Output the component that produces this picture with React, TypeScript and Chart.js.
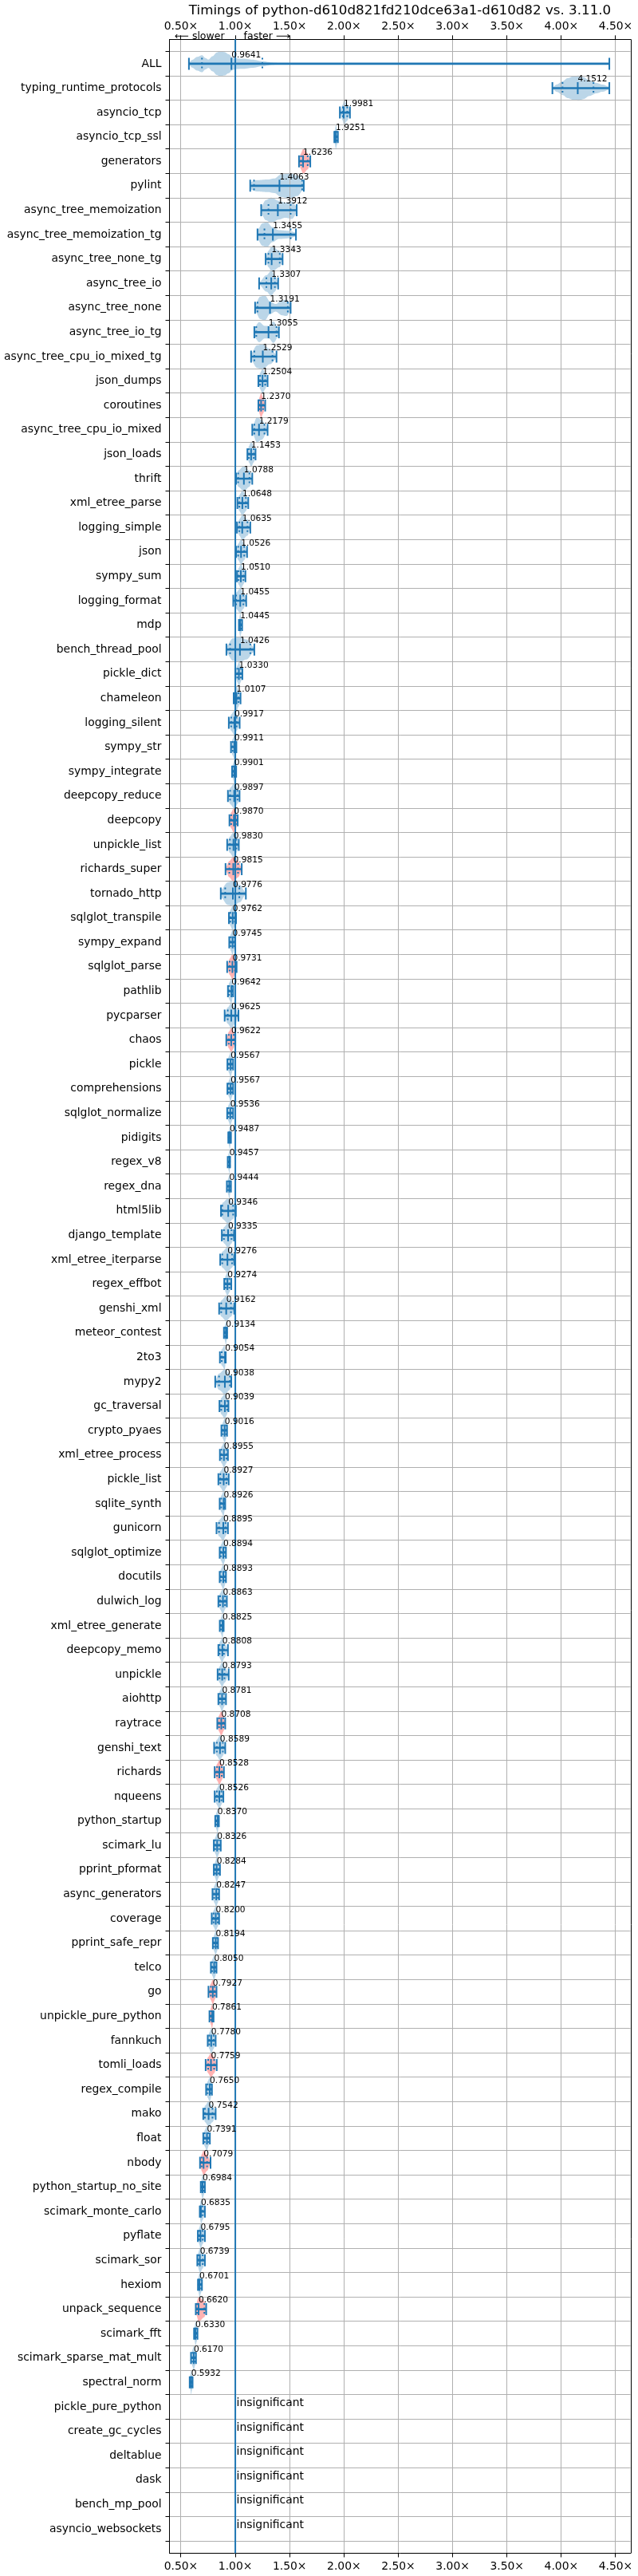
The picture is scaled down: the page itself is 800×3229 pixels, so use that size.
import React, { useEffect, useRef } from 'react';
import { Chart, registerables } from 'chart.js';

Chart.register(...registerables);

const TITLE = 'Timings of python-d610d821fd210dce63a1-d610d82 vs. 3.11.0';

// benchmarks with a significant result, top to bottom
const benchmarks = [
  'ALL', 'typing_runtime_protocols', 'asyncio_tcp', 'asyncio_tcp_ssl', 'generators', 'pylint',
  'async_tree_memoization', 'async_tree_memoization_tg', 'async_tree_none_tg', 'async_tree_io',
  'async_tree_none', 'async_tree_io_tg', 'async_tree_cpu_io_mixed_tg', 'json_dumps', 'coroutines',
  'async_tree_cpu_io_mixed', 'json_loads', 'thrift', 'xml_etree_parse', 'logging_simple', 'json',
  'sympy_sum', 'logging_format', 'mdp', 'bench_thread_pool', 'pickle_dict', 'chameleon',
  'logging_silent', 'sympy_str', 'sympy_integrate', 'deepcopy_reduce', 'deepcopy', 'unpickle_list',
  'richards_super', 'tornado_http', 'sqlglot_transpile', 'sympy_expand', 'sqlglot_parse', 'pathlib',
  'pycparser', 'chaos', 'pickle', 'comprehensions', 'sqlglot_normalize', 'pidigits', 'regex_v8',
  'regex_dna', 'html5lib', 'django_template', 'xml_etree_iterparse', 'regex_effbot', 'genshi_xml',
  'meteor_contest', '2to3', 'mypy2', 'gc_traversal', 'crypto_pyaes', 'xml_etree_process',
  'pickle_list', 'sqlite_synth', 'gunicorn', 'sqlglot_optimize', 'docutils', 'dulwich_log',
  'xml_etree_generate', 'deepcopy_memo', 'unpickle', 'aiohttp', 'raytrace', 'genshi_text', 'richards',
  'nqueens', 'python_startup', 'scimark_lu', 'pprint_pformat', 'async_generators', 'coverage',
  'pprint_safe_repr', 'telco', 'go', 'unpickle_pure_python', 'fannkuch', 'tomli_loads',
  'regex_compile', 'mako', 'float', 'nbody', 'python_startup_no_site', 'scimark_monte_carlo',
  'pyflate', 'scimark_sor', 'hexiom', 'unpack_sequence', 'scimark_fft', 'scimark_sparse_mat_mult',
  'spectral_norm',
];

const insignificantBenchmarks = [
  'pickle_pure_python', 'create_gc_cycles', 'deltablue', 'dask', 'bench_mp_pool', 'asyncio_websockets',
];

const allRows = [...benchmarks, ...insignificantBenchmarks];

// labelled value (speed-up factor) per benchmark
const geoMeans = [
  0.9641, 4.1512, 1.9981, 1.9251, 1.6236, 1.4063, 1.3912, 1.3455, 1.3343, 1.3307,
  1.3191, 1.3055, 1.2529, 1.2504, 1.2370, 1.2179, 1.1453, 1.0788, 1.0648, 1.0635,
  1.0526, 1.0510, 1.0455, 1.0445, 1.0426, 1.0330, 1.0107, 0.9917, 0.9911, 0.9901,
  0.9897, 0.9870, 0.9830, 0.9815, 0.9776, 0.9762, 0.9745, 0.9731, 0.9642, 0.9625,
  0.9622, 0.9567, 0.9567, 0.9536, 0.9487, 0.9457, 0.9444, 0.9346, 0.9335, 0.9276,
  0.9274, 0.9162, 0.9134, 0.9054, 0.9038, 0.9039, 0.9016, 0.8955, 0.8927, 0.8926,
  0.8895, 0.8894, 0.8893, 0.8863, 0.8825, 0.8808, 0.8793, 0.8781, 0.8708, 0.8589,
  0.8528, 0.8526, 0.8370, 0.8326, 0.8284, 0.8247, 0.8200, 0.8194, 0.8050, 0.7927,
  0.7861, 0.7780, 0.7759, 0.7650, 0.7542, 0.7391, 0.7079, 0.6984, 0.6835, 0.6795,
  0.6739, 0.6701, 0.6620, 0.6330, 0.6170, 0.5932,
];

const lows = [
  0.573, 3.918, 1.962, 1.911, 1.586, 1.137, 1.238, 1.204, 1.279, 1.219,
  1.182, 1.175, 1.145, 1.212, 1.212, 1.156, 1.111, 1.007, 1.019, 1.015,
  1.007, 1.015, 0.981, 1.033, 0.918, 1.000, 0.985, 0.940, 0.960, 0.970,
  0.932, 0.946, 0.925, 0.910, 0.866, 0.941, 0.944, 0.925, 0.932, 0.902,
  0.917, 0.927, 0.927, 0.925, 0.935, 0.930, 0.922, 0.868, 0.876, 0.861,
  0.898, 0.851, 0.895, 0.858, 0.815, 0.854, 0.872, 0.858, 0.844, 0.856,
  0.827, 0.856, 0.856, 0.844, 0.857, 0.844, 0.837, 0.844, 0.834, 0.805,
  0.810, 0.810, 0.815, 0.802, 0.802, 0.790, 0.783, 0.793, 0.775, 0.753,
  0.762, 0.746, 0.727, 0.731, 0.705, 0.705, 0.675, 0.682, 0.673, 0.655,
  0.650, 0.656, 0.636, 0.620, 0.592, 0.580,
];

const q1s = [
  0.693, 4.011, 1.990, 1.918, 1.605, 1.172, 1.305, 1.268, 1.305, 1.286,
  1.204, 1.193, 1.175, 1.228, 1.222, 1.175, 1.125, 1.026, 1.037, 1.037,
  1.026, 1.030, 1.007, 1.038, 0.952, 1.018, 0.995, 0.962, 0.975, 0.980,
  0.952, 0.962, 0.950, 0.945, 0.907, 0.955, 0.958, 0.948, 0.942, 0.930,
  0.940, 0.940, 0.940, 0.937, 0.942, 0.938, 0.935, 0.880, 0.895, 0.880,
  0.910, 0.870, 0.905, 0.875, 0.850, 0.870, 0.885, 0.872, 0.862, 0.870,
  0.850, 0.868, 0.868, 0.860, 0.868, 0.855, 0.855, 0.858, 0.850, 0.830,
  0.832, 0.830, 0.825, 0.815, 0.815, 0.805, 0.800, 0.805, 0.787, 0.775,
  0.775, 0.760, 0.750, 0.745, 0.720, 0.718, 0.690, 0.690, 0.678, 0.668,
  0.660, 0.663, 0.648, 0.628, 0.605, 0.588,
];

const q3s = [
  1.249, 4.296, 2.030, 1.935, 1.666, 1.615, 1.509, 1.509, 1.409, 1.364,
  1.483, 1.379, 1.342, 1.275, 1.255, 1.268, 1.170, 1.130, 1.097, 1.112,
  1.082, 1.075, 1.074, 1.055, 1.138, 1.050, 1.030, 1.012, 1.000, 0.998,
  1.020, 1.005, 1.010, 1.025, 1.037, 0.995, 0.988, 0.996, 0.972, 1.000,
  0.985, 0.970, 0.970, 0.968, 0.954, 0.949, 0.952, 0.980, 0.965, 0.970,
  0.945, 0.960, 0.920, 0.908, 0.950, 0.925, 0.915, 0.918, 0.918, 0.900,
  0.910, 0.905, 0.905, 0.905, 0.888, 0.895, 0.900, 0.895, 0.890, 0.885,
  0.875, 0.872, 0.843, 0.850, 0.845, 0.840, 0.838, 0.832, 0.818, 0.810,
  0.793, 0.800, 0.805, 0.776, 0.790, 0.752, 0.740, 0.710, 0.700, 0.700,
  0.700, 0.685, 0.715, 0.645, 0.628, 0.600,
];

const highs = [
  4.442, 4.442, 2.055, 1.944, 1.690, 1.630, 1.565, 1.558, 1.435, 1.394,
  1.509, 1.401, 1.379, 1.297, 1.275, 1.297, 1.186, 1.156, 1.119, 1.138,
  1.108, 1.093, 1.100, 1.063, 1.175, 1.065, 1.048, 1.040, 1.010, 1.008,
  1.039, 1.022, 1.032, 1.059, 1.097, 1.007, 0.998, 1.012, 0.980, 1.029,
  1.000, 0.980, 0.980, 0.980, 0.960, 0.952, 0.960, 1.005, 0.988, 0.990,
  0.963, 0.990, 0.925, 0.912, 0.963, 0.937, 0.924, 0.932, 0.939, 0.907,
  0.932, 0.914, 0.914, 0.922, 0.893, 0.932, 0.939, 0.914, 0.907, 0.907,
  0.895, 0.890, 0.849, 0.866, 0.859, 0.851, 0.851, 0.841, 0.827, 0.827,
  0.800, 0.819, 0.829, 0.785, 0.819, 0.766, 0.772, 0.720, 0.720, 0.720,
  0.720, 0.693, 0.732, 0.652, 0.638, 0.607,
];

// violins drawn in red instead of blue
const redBenchmarks = [
  'generators', 'coroutines', 'deepcopy', 'richards_super', 'sqlglot_parse', 'chaos', 'raytrace',
  'richards', 'go', 'unpickle_pure_python', 'tomli_loads', 'nbody', 'unpack_sequence',
];

// [value, relative density] outlines for the wider violins
const violinShapes: Record<string, number[][]> = {
  ALL: [[0.573, 0.08], [0.6, 0.3], [0.65, 0.55], [0.693, 0.68], [0.725, 0.45], [0.752, 0.33], [0.79, 0.6], [0.83, 0.9], [0.862, 1], [0.9, 0.93], [0.94, 0.75], [0.975, 0.5], [1.0, 0.42], [1.08, 0.4], [1.15, 0.33], [1.25, 0.2], [1.35, 0.08], [1.45, 0.02], [1.6, 0], [4.442, 0]],
  typing_runtime_protocols: [[3.918, 0.08], [3.96, 0.3], [4.011, 0.55], [4.06, 0.8], [4.12, 0.97], [4.16, 1], [4.2, 0.88], [4.26, 0.62], [4.32, 0.42], [4.38, 0.28], [4.442, 0.12]],
  pylint: [[1.137, 0.3], [1.2, 0.45], [1.3, 0.5], [1.36, 0.58], [1.42, 0.9], [1.5, 1], [1.57, 0.82], [1.63, 0.3]],
  async_tree_memoization: [[1.238, 0.3], [1.28, 0.8], [1.33, 1], [1.4, 0.75], [1.46, 0.6], [1.52, 0.7], [1.565, 0.3]],
  async_tree_memoization_tg: [[1.204, 0.4], [1.25, 0.9], [1.29, 1], [1.34, 0.6], [1.4, 0.35], [1.5, 0.3], [1.558, 0.15]],
  async_tree_none: [[1.182, 0.3], [1.23, 0.9], [1.27, 1], [1.32, 0.5], [1.37, 0.3], [1.43, 0.6], [1.47, 0.65], [1.509, 0.3]],
  async_tree_io_tg: [[1.175, 0.4], [1.22, 0.8], [1.27, 0.5], [1.31, 0.5], [1.35, 0.85], [1.401, 0.3]],
  async_tree_cpu_io_mixed_tg: [[1.145, 0.3], [1.2, 0.9], [1.25, 1], [1.32, 0.6], [1.379, 0.2]],
  async_tree_cpu_io_mixed: [[1.156, 0.3], [1.2, 1], [1.24, 0.8], [1.297, 0.2]],
  bench_thread_pool: [[0.918, 0.3], [0.98, 0.9], [1.04, 1], [1.1, 0.8], [1.175, 0.2]],
  tornado_http: [[0.866, 0.3], [0.93, 0.9], [0.98, 1], [1.04, 0.7], [1.097, 0.1]],
};

const xTickValues = [0.5, 1.0, 1.5, 2.0, 2.5, 3.0, 3.5, 4.0, 4.5];
const X_MIN = 0.394;
const X_MAX = 4.636;
const BASELINE = 1.0;

const FONT = '"DejaVu Sans"';
const BLUE = '#1f77b4';
const BLUE_BODY = 'rgba(31,119,180,0.3)';
const RED_BODY = 'rgba(255,0,0,0.3)';
const GRID = '#b0b0b0';

function densityAt(knots: number[][], v: number): number {
  if (v <= knots[0][0]) return knots[0][1];
  for (let k = 0; k < knots.length - 1; k++) {
    const [a, fa] = knots[k];
    const [b, fb] = knots[k + 1];
    if (v <= b) {
      const t = b > a ? (v - a) / (b - a) : 1;
      const s = (1 - Math.cos(Math.PI * t)) / 2;
      return fa + (fb - fa) * s;
    }
  }
  return knots[knots.length - 1][1];
}

const violinPlugin = {
  id: 'violinExtras',
  beforeDraw(chart: any) {
    const { ctx, chartArea: a, scales } = chart;
    const xs = scales.x;
    const ys = scales.y;
    const rowPx = Math.abs(ys.getPixelForValue(1) - ys.getPixelForValue(0));
    const maxHalf = rowPx * 0.515;
    ctx.save();
    ctx.beginPath();
    ctx.rect(a.left, a.top, a.right - a.left, a.bottom - a.top);
    ctx.clip();
    benchmarks.forEach((name, i) => {
      const knots = violinShapes[name] ?? [
        [lows[i], 0.12], [q1s[i], 0.65], [geoMeans[i], 1], [q3s[i], 0.65], [highs[i], 0.12],
      ];
      const yc = ys.getPixelForValue(i + 1);
      const x0 = xs.getPixelForValue(lows[i]);
      const x1 = xs.getPixelForValue(highs[i]);
      const n = Math.max(12, Math.ceil(x1 - x0));
      const top: number[][] = [];
      const bot: number[][] = [];
      for (let k = 0; k <= n; k++) {
        const px = x0 + ((x1 - x0) * k) / n;
        const v = xs.getValueForPixel(px);
        const h = densityAt(knots, v) * maxHalf;
        top.push([px, yc - h]);
        bot.push([px, yc + h]);
      }
      ctx.beginPath();
      ctx.moveTo(top[0][0], top[0][1]);
      top.forEach((p) => ctx.lineTo(p[0], p[1]));
      for (let k = bot.length - 1; k >= 0; k--) ctx.lineTo(bot[k][0], bot[k][1]);
      ctx.closePath();
      ctx.fillStyle = redBenchmarks.includes(name) ? RED_BODY : BLUE_BODY;
      ctx.fill();
    });
    ctx.restore();
  },
  beforeDatasetsDraw(chart: any) {
    const { ctx, chartArea: a, scales } = chart;
    const px = scales.x.getPixelForValue(BASELINE);
    ctx.save();
    ctx.strokeStyle = BLUE;
    ctx.lineWidth = 2;
    ctx.beginPath();
    ctx.moveTo(px, a.top);
    ctx.lineTo(px, a.bottom);
    ctx.stroke();
    ctx.restore();
  },
  afterDatasetsDraw(chart: any) {
    const { ctx, chartArea: a, scales } = chart;
    const xs = scales.x;
    const ys = scales.y;
    const rowPx = Math.abs(ys.getPixelForValue(1) - ys.getPixelForValue(0));
    const tick = rowPx * 0.245;
    ctx.save();
    // dotted quantile ticks
    ctx.strokeStyle = BLUE;
    ctx.lineWidth = 2;
    ctx.setLineDash([2.1, 3.4]);
    benchmarks.forEach((_, i) => {
      const yc = ys.getPixelForValue(i + 1);
      [q1s[i], q3s[i]].forEach((q) => {
        const px = xs.getPixelForValue(q);
        ctx.beginPath();
        ctx.moveTo(px, yc - tick);
        ctx.lineTo(px, yc + tick);
        ctx.stroke();
      });
    });
    ctx.setLineDash([]);
    // value labels
    ctx.fillStyle = '#000';
    ctx.textAlign = 'left';
    ctx.textBaseline = 'alphabetic';
    ctx.font = `10.6px ${FONT}`;
    benchmarks.forEach((_, i) => {
      const yc = ys.getPixelForValue(i + 1);
      ctx.fillText(geoMeans[i].toFixed(4), xs.getPixelForValue(geoMeans[i]), yc - 8.2);
    });
    ctx.font = `13.9px ${FONT}`;
    insignificantBenchmarks.forEach((_, j) => {
      const yc = ys.getPixelForValue(benchmarks.length + j + 1);
      ctx.fillText('insignificant', xs.getPixelForValue(BASELINE) + 1.5, yc - 1);
    });
    // right frame edge
    ctx.strokeStyle = '#000';
    ctx.lineWidth = 1;
    ctx.beginPath();
    ctx.moveTo(Math.round(a.right) + 0.5, a.top);
    ctx.lineTo(Math.round(a.right) + 0.5, a.bottom);
    ctx.stroke();
    ctx.restore();
  },
  afterDraw(chart: any) {
    const { ctx, chartArea: a, scales } = chart;
    const xs = scales.x;
    ctx.save();
    ctx.fillStyle = '#000';
    ctx.textBaseline = 'alphabetic';
    ctx.textAlign = 'center';
    ctx.font = `16.7px ${FONT}`;
    ctx.fillText(TITLE, (a.left + a.right) / 2, 17.5);
    const bx = xs.getPixelForValue(BASELINE);
    ctx.font = `12.5px ${FONT}`;
    ctx.textAlign = 'right';
    ctx.fillText('⟵ slower', bx - 13.5, a.top);
    ctx.textAlign = 'left';
    ctx.fillText('faster ⟶', bx + 10.5, a.top);
    ctx.restore();
  },
};

const tickFont = { family: FONT, size: 13.9 };
const setXTicks = (s: any) => {
  s.ticks = xTickValues.map((v) => ({ value: v }));
};
const xLabel = (v: any) => `${Number(v).toFixed(2)}×`;

export default function App() {
  const ref = useRef<HTMLCanvasElement>(null);
  useEffect(() => {
    document.body.style.margin = '0';
    const canvas = ref.current;
    if (!canvas) return;
    const rows = benchmarks.map((_, i) => i + 1);
    const chart = new Chart(canvas, {
      type: 'scatter',
      data: {
        datasets: [
          {
            type: 'scatter',
            label: 'extrema',
            data: rows.flatMap((r, i) => [{ x: lows[i], y: r }, { x: highs[i], y: r }]),
            pointStyle: 'line',
            rotation: 90,
            radius: 7.5,
            borderWidth: 2,
            borderColor: BLUE,
            backgroundColor: BLUE,
            showLine: false,
            xAxisID: 'x',
            yAxisID: 'y',
          } as any,
          {
            type: 'scatter',
            label: 'centre',
            data: rows.map((r, i) => ({ x: geoMeans[i], y: r })),
            pointStyle: 'line',
            rotation: 90,
            radius: 7.5,
            borderWidth: 2,
            borderColor: BLUE,
            backgroundColor: BLUE,
            showLine: false,
            xAxisID: 'x',
            yAxisID: 'y',
          } as any,
          {
            type: 'bar',
            label: 'range',
            indexAxis: 'y',
            data: rows.map((r, i) => ({ x: [lows[i], highs[i]], y: r })),
            backgroundColor: BLUE,
            borderWidth: 0,
            barThickness: 2,
            xAxisID: 'x',
            yAxisID: 'y',
          } as any,
        ],
      },
      options: {
        responsive: false,
        maintainAspectRatio: false,
        animation: false,
        devicePixelRatio: 1,
        events: [],
        layout: { padding: { left: 0, right: 6.7, top: 0, bottom: 0 } },
        plugins: { legend: { display: false }, tooltip: { enabled: false }, title: { display: false } },
        scales: {
          x: {
            type: 'linear',
            position: 'bottom',
            min: X_MIN,
            max: X_MAX,
            offset: false,
            afterBuildTicks: setXTicks,
            afterFit: (s: any) => { s.height = 28.5; },
            ticks: { callback: xLabel, font: tickFont, color: '#000', padding: 4, maxRotation: 0, autoSkip: false },
            grid: { color: GRID, lineWidth: 1, tickColor: '#000', tickLength: 5, tickWidth: 1 },
            border: { color: '#000', width: 1 },
          },
          x2: {
            type: 'linear',
            position: 'top',
            min: X_MIN,
            max: X_MAX,
            offset: false,
            afterBuildTicks: setXTicks,
            afterFit: (s: any) => { s.height = 49.3; },
            ticks: { callback: xLabel, font: tickFont, color: '#000', padding: 3, maxRotation: 0, autoSkip: false },
            grid: { drawOnChartArea: false, tickColor: '#000', tickLength: 5, tickWidth: 1 },
            border: { color: '#000', width: 1 },
          },
          y: {
            type: 'linear',
            min: 0,
            max: allRows.length + 1,
            reverse: true,
            offset: false,
            afterBuildTicks: (s: any) => { s.ticks = allRows.map((_, i) => ({ value: i + 1 })); },
            afterFit: (s: any) => { s.width = 212.5; },
            ticks: {
              callback: (v: any) => allRows[Math.round(Number(v)) - 1] ?? '',
              font: tickFont,
              color: '#000',
              padding: 5,
              autoSkip: false,
            },
            grid: { color: GRID, lineWidth: 1, tickColor: '#000', tickLength: 5, tickWidth: 1 },
            border: { color: '#000', width: 1 },
          },
        },
      } as any,
      plugins: [violinPlugin],
    });
    return () => chart.destroy();
  }, []);
  return (
    <canvas
      ref={ref}
      width={800}
      height={3229}
      style={{ display: 'block', width: '800px', height: '3229px' }}
    />
  );
}
